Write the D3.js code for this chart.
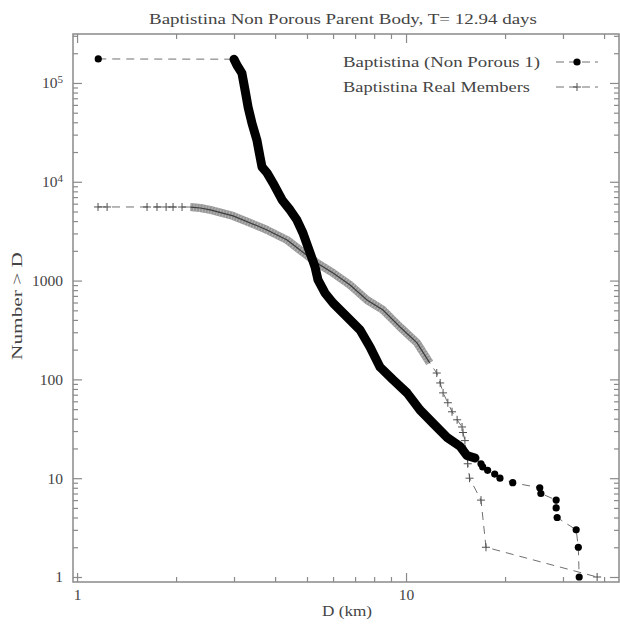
<!DOCTYPE html>
<html>
<head>
<meta charset="utf-8">
<script src="https://cdn.jsdelivr.net/npm/d3@7"></script>
<style>
  body { margin: 0; background: #fff; }
  text { font-family: "Liberation Serif", serif; fill: #444; font-size: 15.5px; }
</style>
</head>
<body>
<svg id="chart" width="620" height="624"></svg>
<script>
// values: D in km, N = cumulative number > D
var nonPorousD = [1.16, 3.00, 3.06, 3.17, 3.24, 3.31, 3.40, 3.52, 3.60, 3.65, 3.78, 3.94, 4.20, 4.44, 4.66, 4.86,
                  5.11, 5.29, 5.40, 5.67, 6.00, 6.62, 7.25, 7.77, 8.34, 9.13, 10.07, 11.03, 12.08, 13.3, 14.6, 15.3,
                  16.2, 16.9, 17.1, 17.7, 18.6, 19.3, 21.1, 25.5, 25.7, 28.6, 28.6, 28.8, 32.9, 33.4, 33.6];
var nonPorousN = [175000, 174000, 152000, 126000, 85000, 57000, 39400, 26500, 17800, 14100, 12300, 9730, 6550, 5190, 4100, 3030,
                  1900, 1373, 1014, 749, 593, 428, 316, 213, 133, 99, 73, 49, 36, 26, 21, 17,
                  16, 14, 13, 12, 11, 10, 9, 8, 7, 6, 5, 4, 3, 2, 1];
var nonPorousDense = [1, 32];   // index run where the markers pile into one band

var realD = [1.158, 1.234, 1.632, 1.75, 1.865, 1.958, 2.085, 2.21, 2.37, 2.54, 2.98, 3.60, 3.78, 4.35, 4.76, 5.36,
             6.00, 6.76, 7.61, 8.51, 9.59, 10.8, 11.8, 12.4, 12.7, 12.96, 13.4, 13.8, 14.3, 14.8, 14.9, 15.1,
             15.4, 15.6, 16.9, 17.5, 38.1];
var realN = [5560, 5559, 5558, 5557, 5556, 5555, 5554, 5550, 5430, 5190, 4510, 3490, 3250, 2575, 2040, 1507,
             1194, 902, 636, 504, 339, 234, 147, 116, 92, 73, 58, 47, 39, 33, 29, 24,
             14, 10, 6, 2, 1];
var realDense = [7, 22];

var xMajor = [1, 10];
var xMinor = [2, 3, 4, 5, 6, 7, 8, 9, 20, 30, 40];
var yMajor = [1, 10, 100, 1000, 1e4, 1e5];
var yTickLabels = ["1", "10", "100", "1000", "10^4", "10^5"];
var yMinor = [];
[1, 10, 100, 1000, 1e4, 1e5].forEach(function(dec) {
    [2, 3, 4, 5, 6, 7, 8, 9].forEach(function(k) { if (k * dec < 3.1e5) yMinor.push(k * dec); });
});

var legendLabels = ["Baptistina (Non Porous 1)", "Baptistina Real Members"];
var titleText = "Baptistina Non Porous Parent Body, T= 12.94 days";

var svg = d3.select("#chart");
var pLeft = 73, pRight = 619, pTop = 34, pBottom = 582;

var x = d3.scaleLog().domain([0.972, 44.4]).range([pLeft, pRight]);
var y = d3.scaleLog().domain([0.89, 3.13e5]).range([pBottom, pTop]);

function pts(ds, ns) {
    return ds.map(function(d, i) { return {D: d, N: ns[i], i: i}; });
}
var nonPorous = pts(nonPorousD, nonPorousN);
var real = pts(realD, realN);

var line = d3.line().x(function(d) { return x(d.D); }).y(function(d) { return y(d.N); });

// frame
svg.append("rect")
    .attr("x", pLeft).attr("y", pTop)
    .attr("width", pRight - pLeft).attr("height", pBottom - pTop)
    .attr("fill", "none").attr("stroke", "#8a8a8a").attr("stroke-width", 1.5);

function ticks(axisGen, tx, ty, vals, size, fmt, pad) {
    var g = svg.append("g")
        .attr("transform", "translate(" + tx + "," + ty + ")")
        .call(axisGen.tickValues(vals).tickSize(-size).tickSizeOuter(0)
              .tickPadding(pad || 6).tickFormat(fmt || function() { return ""; }));
    g.select(".domain").remove();
    g.selectAll("line").attr("stroke", "#8a8a8a").attr("stroke-width", 1.2);
    g.attr("font-family", null).attr("font-size", null);
    return g;
}

ticks(d3.axisBottom(x), 0, pBottom, xMajor, 9, function(d) { return String(d); }, 7);
ticks(d3.axisBottom(x), 0, pBottom, xMinor, 5);
ticks(d3.axisTop(x), 0, pTop, xMajor, 9);
ticks(d3.axisTop(x), 0, pTop, xMinor, 5);

var yl = ticks(d3.axisLeft(y), pLeft, 0, yMajor, 9, function(d, i) { return yTickLabels[i]; }, 10);
ticks(d3.axisLeft(y), pLeft, 0, yMinor, 5);
ticks(d3.axisRight(y), pRight, 0, yMajor, 9);
ticks(d3.axisRight(y), pRight, 0, yMinor, 5);

yl.selectAll("text").each(function() {
    var t = d3.select(this), s = t.text();
    if (s.indexOf("^") > 0) {
        var parts = s.split("^");
        t.text(parts[0]);
        t.append("tspan").attr("dy", "-0.5em").attr("font-size", "11px").text(parts[1]);
    }
});
svg.selectAll("g text").attr("fill", "#444");

// connecting dashed lines
svg.append("path").datum(real).attr("d", line)
    .attr("fill", "none").attr("stroke", "#707070").attr("stroke-width", 1)
    .attr("stroke-dasharray", "8,6");
svg.append("path").datum(nonPorous).attr("d", line)
    .attr("fill", "none").attr("stroke", "#707070").attr("stroke-width", 1)
    .attr("stroke-dasharray", "8,6");

// real members: band where the crosses overlap, crosses elsewhere
var realBand = real.slice(realDense[0], realDense[1] + 1);
svg.append("path").datum(realBand).attr("d", line)
    .attr("fill", "none").attr("stroke", "#959595").attr("stroke-width", 8)
    .attr("stroke-linejoin", "round");
svg.append("path").datum(realBand).attr("d", line)
    .attr("fill", "none").attr("stroke", "#b5b5b5").attr("stroke-width", 8)
    .attr("stroke-dasharray", "1,2");
svg.append("path").datum(realBand).attr("d", line)
    .attr("fill", "none").attr("stroke", "#3c3c3c").attr("stroke-width", 1.2);

function plus(g, cx, cy) {
    g.append("path")
        .attr("d", "M" + (cx - 4) + "," + cy + "H" + (cx + 4) + "M" + cx + "," + (cy - 4) + "V" + (cy + 4))
        .attr("stroke", "#505050").attr("stroke-width", 1).attr("fill", "none");
}
var gp = svg.append("g");
real.forEach(function(d) {
    if (d.i < realDense[0] || d.i > realDense[1]) plus(gp, x(d.D), y(d.N));
});

// non porous: thick band of overlapping dots, separate dots elsewhere
var npBand = nonPorous.slice(nonPorousDense[0], nonPorousDense[1] + 1);
svg.append("path").datum(npBand).attr("d", line)
    .attr("fill", "none").attr("stroke", "#000").attr("stroke-width", 9)
    .attr("stroke-linejoin", "round").attr("stroke-linecap", "round");

svg.append("g").selectAll("circle")
    .data(nonPorous.filter(function(d) { return d.i < nonPorousDense[0] || d.i > nonPorousDense[1]; }))
    .enter().append("circle")
        .attr("cx", function(d) { return x(d.D); })
        .attr("cy", function(d) { return y(d.N); })
        .attr("r", 3.6)
        .attr("fill", "#000");

// legend
var lg = svg.append("g");
legendLabels.forEach(function(lab, i) {
    var ly = 62 + i * 25;
    lg.append("text").attr("x", 343).attr("y", ly + 5)
        .attr("textLength", i == 0 ? 197 : 187).attr("lengthAdjust", "spacingAndGlyphs")
        .text(lab);
    lg.append("line").attr("x1", 556).attr("x2", 598).attr("y1", ly).attr("y2", ly)
        .attr("stroke", "#707070").attr("stroke-width", 1).attr("stroke-dasharray", "8,5");
    if (i == 0) lg.append("circle").attr("cx", 577).attr("cy", ly).attr("r", 3.6).attr("fill", "#000");
    else plus(lg, 577, ly);
});

// title and axis labels
svg.append("text").attr("x", 343).attr("y", 24).attr("text-anchor", "middle")
    .attr("textLength", 388).attr("lengthAdjust", "spacingAndGlyphs").text(titleText);
svg.append("text").attr("x", 347).attr("y", 616).attr("text-anchor", "middle")
    .attr("textLength", 50).attr("lengthAdjust", "spacingAndGlyphs").text("D (km)");
svg.append("text").attr("transform", "translate(22,306) rotate(-90)").attr("text-anchor", "middle")
    .attr("textLength", 108).attr("lengthAdjust", "spacingAndGlyphs").text("Number > D");
</script>
</body>
</html>
